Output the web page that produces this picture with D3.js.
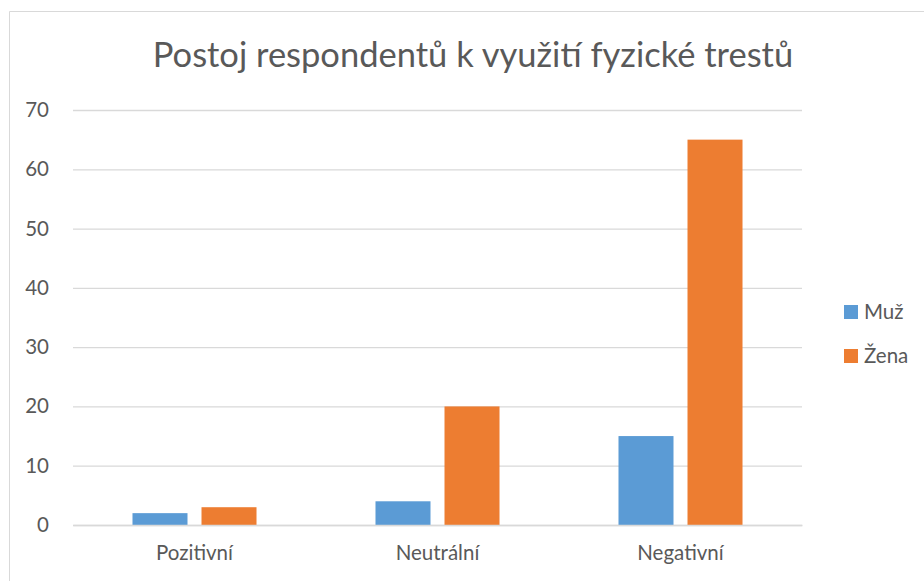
<!DOCTYPE html>
<html>
<head>
<meta charset="utf-8">
<script src="https://cdn.jsdelivr.net/npm/d3@7"></script>
<style>
  body { margin: 0; background: #fff; }
  text { font-family: Lato, 'Open Sans', sans-serif; fill: #595959; }
</style>
</head>
<body>
<div id="chart"></div>
<script>
const categories = ['Pozitivní', 'Neutrální', 'Negativní'];
const seriesNames = ['Muž', 'Žena'];
const muzValues = [2, 4, 15];
const zenaValues = [3, 20, 65];
const yTicks = [0, 10, 20, 30, 40, 50, 60, 70];
const colors = ['#5b9bd5', '#ed7d31'];

const width = 924, height = 581;
const plot = { left: 73, right: 802, top: 110, bottom: 525 };

const svg = d3.select('#chart')
  .append('svg')
  .attr('width', width)
  .attr('height', height);

// frame
svg.append('path')
  .attr('d', `M9.5,${height} V11.5 H${width}`)
  .attr('fill', 'none')
  .attr('stroke', '#d9d9d9');

// title
svg.append('text')
  .attr('x', 473)
  .attr('y', 67)
  .attr('text-anchor', 'middle')
  .style('font-size', '34.5px')
  .text('Postoj respondentů k využití fyzické trestů');

const x0 = d3.scaleBand()
  .domain(categories)
  .range([plot.left, plot.right]);

const x1 = d3.scaleBand()
  .domain(seriesNames)
  .range([0, x0.bandwidth()])
  .paddingInner(0.203)
  .paddingOuter(0.862);

const y = d3.scaleLinear()
  .domain([0, 70])
  .range([plot.bottom, plot.top]);

// grid
const yAxis = d3.axisLeft(y)
  .tickValues(yTicks)
  .tickSize(-(plot.right - plot.left))
  .tickPadding(24);

const gy = svg.append('g')
  .attr('transform', `translate(${plot.left},0)`)
  .call(yAxis);
gy.select('.domain').remove();
gy.selectAll('line').attr('stroke', '#d9d9d9').attr('stroke-width', 1.3);
gy.selectAll('text').style('font-size', '20.5px').attr('fill', '#595959');

const data = categories.map((c, i) => ({ cat: c, values: [muzValues[i], zenaValues[i]] }));

const groups = svg.append('g')
  .selectAll('g')
  .data(data)
  .join('g')
  .attr('transform', d => `translate(${x0(d.cat)},0)`);

groups.selectAll('rect')
  .data(d => d.values.map((v, j) => ({ name: seriesNames[j], value: v, j })))
  .join('rect')
  .attr('x', d => x1(d.name))
  .attr('y', d => y(d.value))
  .attr('width', x1.bandwidth())
  .attr('height', d => y(0) - y(d.value))
  .attr('fill', d => colors[d.j]);

// x axis labels
const xAxis = d3.axisBottom(x0).tickSize(0).tickPadding(20);
const gx = svg.append('g')
  .attr('transform', `translate(0,${plot.bottom})`)
  .call(xAxis);
gx.select('.domain').attr('stroke', '#d9d9d9').attr('stroke-width', 1.3);
gx.selectAll('text').style('font-size', '20.5px').attr('fill', '#595959');

// legend
const legend = svg.append('g')
  .selectAll('g')
  .data(seriesNames)
  .join('g')
  .attr('transform', (d, i) => `translate(844,${305 + i * 44})`);

legend.append('rect')
  .attr('width', 14)
  .attr('height', 14)
  .attr('fill', (d, i) => colors[i]);

legend.append('text')
  .attr('x', 20)
  .attr('y', 14)
  .style('font-size', '20.5px')
  .text(d => d);
</script>
</body>
</html>
